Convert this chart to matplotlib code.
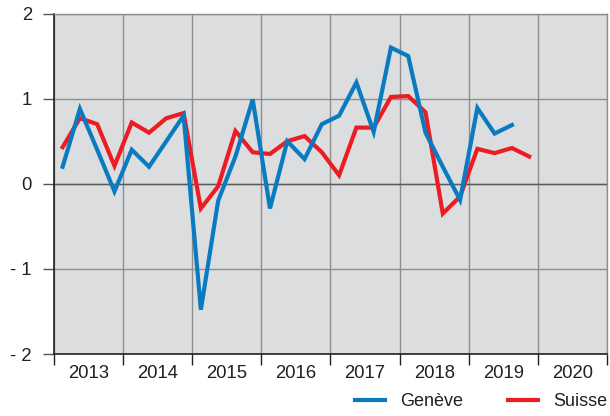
import matplotlib
matplotlib.use("Agg")
import matplotlib.pyplot as plt
import numpy as np

plt.rcParams['font.family'] = ['Liberation Sans', 'DejaVu Sans']

years = ["2013", "2014", "2015", "2016", "2017", "2018", "2019", "2020"]
y_ticks = [-2, -1, 0, 1, 2]
y_ticklabels = ["- 2", "- 1", "0", "1", "2"]

# Quarterly values, 2013Q1 onward
geneve = [0.2, 0.88, 0.4, -0.09, 0.4, 0.2, 0.5, 0.8,
          -1.48, -0.2, 0.32, 0.99, -0.29, 0.5, 0.29, 0.7,
          0.8, 1.19, 0.61, 1.6, 1.5, 0.6, 0.2, -0.19,
          0.89, 0.59, 0.69]
suisse = [0.43, 0.77, 0.7, 0.21, 0.72, 0.6, 0.77, 0.83,
          -0.29, -0.03, 0.62, 0.37, 0.35, 0.5, 0.56, 0.37,
          0.1, 0.66, 0.66, 1.02, 1.03, 0.84, -0.35, -0.15,
          0.41, 0.36, 0.42, 0.32]

blue = '#0A7BC1'
red = '#EC1C24'
fs = 13.3
fs_leg = 13

fig = plt.figure(figsize=(6.1, 4.16), dpi=100)
ax = fig.add_axes([0.0885, 0.149, 0.9065, 0.8185])
ax.set_facecolor('#DCDDDF')

xg = (np.arange(len(geneve)) + 0.5) / 4
xs = (np.arange(len(suisse)) + 0.5) / 4

ax.plot(xs, suisse, color=red, lw=3.0, solid_joinstyle='miter', zorder=3, label='Suisse')
ax.plot(xg, geneve, color=blue, lw=3.0, solid_joinstyle='miter', zorder=4, label='Genève')

ax.set_xlim(0, len(years))
ax.set_ylim(-2, 2)

ax.set_xticks(np.arange(len(years) + 1))
ax.set_xticklabels([])
ax.set_xticks(np.arange(len(years)) + 0.5, minor=True)
ax.set_xticklabels(years, minor=True)
ax.tick_params(axis='x', which='major', direction='out', length=8, width=1.0, color='#222222')
ax.tick_params(axis='x', which='minor', length=0, pad=8, labelsize=fs, labelcolor='#231F20')

ax.set_yticks(y_ticks)
ax.set_yticklabels(y_ticklabels)
ax.tick_params(axis='y', direction='out', length=8, width=1.0, color='#555555', pad=8,
               labelsize=fs, labelcolor='#231F20')

ax.grid(True, which='major', color='#8E8E8E', lw=1.0, zorder=1)
ax.set_axisbelow(True)
ax.axhline(0, color='#5A5A5A', lw=1.0, zorder=2)

for s in ['top', 'right']:
    ax.spines[s].set_color('#8E8E8E')
    ax.spines[s].set_linewidth(1.0)
for s in ['left', 'bottom']:
    ax.spines[s].set_color('#231F20')
    ax.spines[s].set_linewidth(1.2)

handles, labels = ax.get_legend_handles_labels()
order = [1, 0]
fig.legend([handles[i] for i in order], [labels[i] for i in order],
           loc='center left', bbox_to_anchor=(355 / 610, 1 - 402 / 416), ncol=2, frameon=False,
           fontsize=fs_leg, handlelength=1.66, handletextpad=0.83, columnspacing=2.5,
           borderpad=0, borderaxespad=0, labelcolor='#231F20')

fig.savefig('out.png', dpi=100)
